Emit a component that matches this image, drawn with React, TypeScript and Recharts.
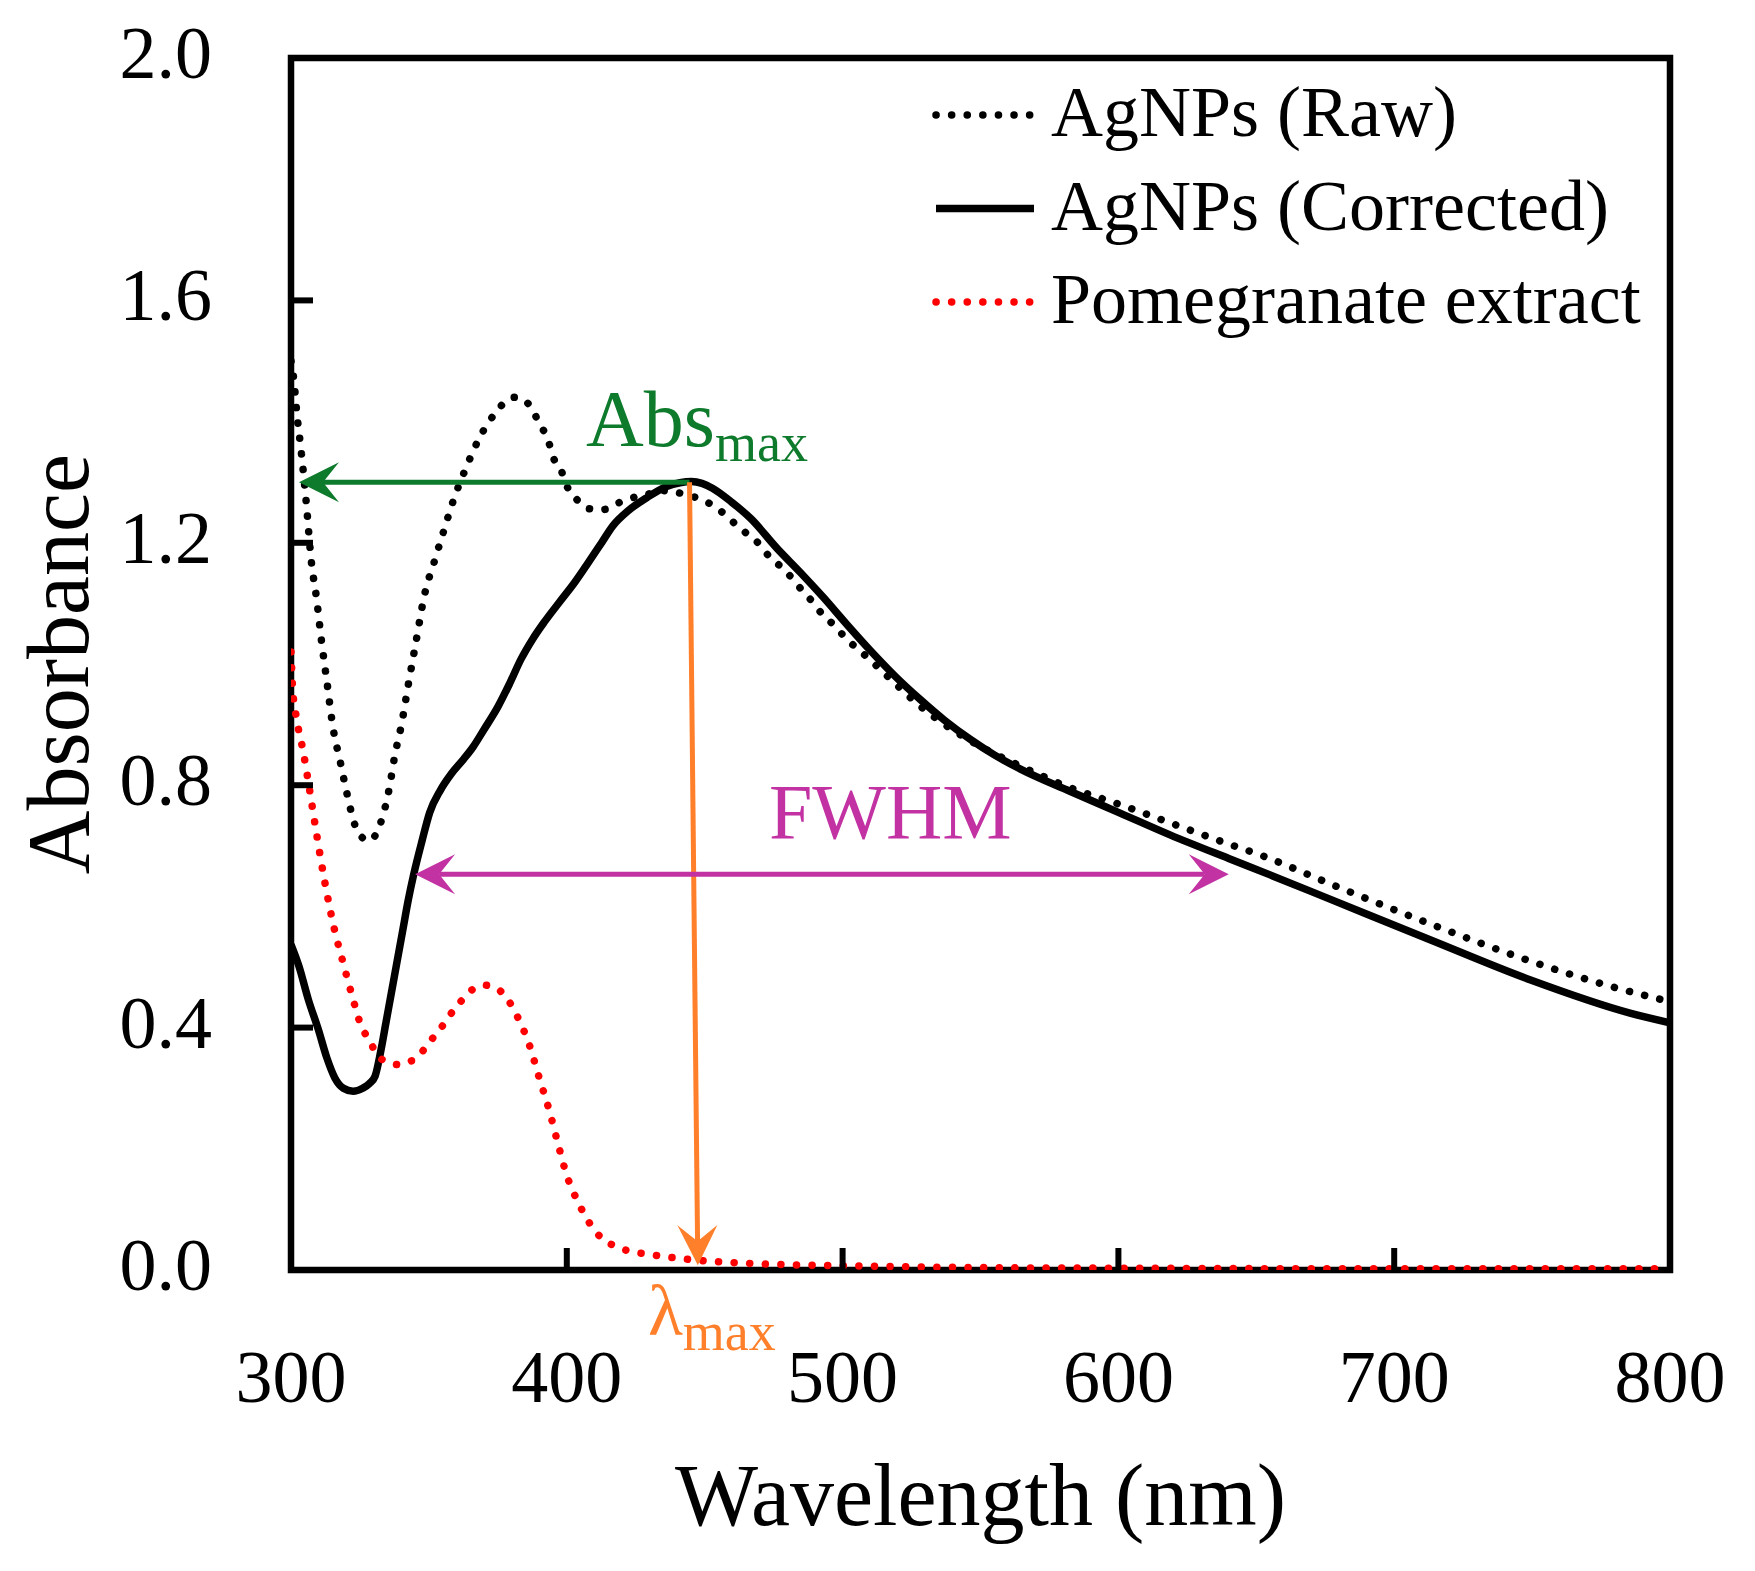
import React from 'react'
import {
  LineChart,
  Line,
  XAxis,
  YAxis,
  ReferenceArea,
  ReferenceLine,
  ReferenceDot,
  Legend,
} from 'recharts'

// AgNPs (Raw) - wavelength (nm) and absorbance
const rawNm = [
  300, 301, 302.2, 303.6, 305.4, 307.4, 309.3, 311, 312.9, 315.3, 317.8, 320.2, 323.2, 326.2, 328.2, 330.4,
  332.8, 335.6, 337.6, 340.1, 342.5, 345.3, 348.5, 351.9, 355.4, 359.1, 363.3, 368.2, 374.4, 378.6, 381,
  383.7, 387.6, 390.3, 393.1, 394.8, 398, 400, 403.5, 408.4, 413.3, 418.8, 424.4, 429.2, 434.8, 441, 446.6,
  452.1, 457, 461.1, 465.3, 470.2, 473.6, 477.8, 482, 485.4, 489.6, 493, 497.2, 501.4, 505.5, 510.4, 519,
  528, 537, 546, 555, 564.3, 582.4, 600.6, 618.7, 636.8, 652.5, 678.5, 715.4, 746.7, 779.3, 800,
]
const rawAbs = [
  1.5, 1.47, 1.41, 1.355, 1.273, 1.168, 1.107, 1.04, 0.975, 0.893, 0.84, 0.788, 0.734, 0.712, 0.708, 0.716,
  0.742, 0.794, 0.848, 0.901, 0.965, 1.036, 1.116, 1.168, 1.22, 1.273, 1.322, 1.372, 1.416, 1.436, 1.44,
  1.438, 1.419, 1.394, 1.372, 1.344, 1.319, 1.294, 1.272, 1.256, 1.255, 1.266, 1.275, 1.28, 1.286, 1.282, 1.275,
  1.264, 1.248, 1.231, 1.215, 1.196, 1.176, 1.16, 1.14, 1.121, 1.1, 1.08, 1.063, 1.041, 1.025, 1.005, 0.968,
  0.931, 0.9, 0.874, 0.852, 0.832, 0.796, 0.768, 0.738, 0.708, 0.683, 0.634, 0.567, 0.514, 0.467, 0.443,
]

// AgNPs (Corrected)
const corrNm = [
  300, 302.9, 306.3, 309.9, 313, 315.9, 319, 322.5, 326, 328.5, 330.5, 332.5, 334.5, 336.5, 338.5, 340.5,
  342.5, 344.5, 347.5, 350.3, 354.2, 358, 362.6, 366, 370, 375.1, 379.3, 383.4, 387.6, 391.8, 397.3,
  402.9, 407, 412.6, 416.7, 422.3, 429.2, 436.2, 441, 445.2, 449, 452.8, 459.8, 466.7, 476.4, 484.7, 493,
  501.4, 509.9, 519, 528, 537, 546.2, 555, 564.3, 582.4, 600.6, 618.7, 640, 655, 676.7, 713, 749.2, 785.5, 800,
]
const corrAbs = [
  0.537, 0.501, 0.446, 0.397, 0.35, 0.317, 0.3, 0.295, 0.3, 0.308, 0.32, 0.36, 0.41, 0.46, 0.51, 0.56,
  0.61, 0.653, 0.708, 0.755, 0.792, 0.818, 0.843, 0.863, 0.892, 0.93, 0.968, 1.008, 1.041, 1.069, 1.102,
  1.135, 1.162, 1.2, 1.228, 1.253, 1.275, 1.293, 1.299, 1.301, 1.298, 1.29, 1.267, 1.24, 1.19, 1.151, 1.11,
  1.066, 1.023, 0.98, 0.942, 0.907, 0.876, 0.85, 0.827, 0.79, 0.754, 0.718, 0.679, 0.652, 0.612, 0.545, 0.479, 0.424, 0.408,
]

// Pomegranate extract
const pomNm = [
  300, 300.6, 302.1, 304.5, 306.5, 309.3, 312.3, 315.9, 318.9, 322, 325.6, 328.6, 331, 334, 338.8, 342,
  346.4, 350, 354, 357.5, 361, 364.7, 367.5, 370, 374, 378, 382, 386.6, 390, 393.6, 396.6, 399.8, 404.4,
  410.5, 420, 431, 443, 465.7, 501.8, 550, 600, 700, 800,
]
const pomAbs = [
  1.02, 0.96, 0.908, 0.854, 0.799, 0.719, 0.639, 0.559, 0.507, 0.455, 0.401, 0.378, 0.356, 0.345, 0.339, 0.342,
  0.354, 0.375, 0.397, 0.42, 0.44, 0.459, 0.467, 0.47, 0.466, 0.45, 0.419, 0.369, 0.317, 0.264, 0.212, 0.159, 0.109,
  0.063, 0.035, 0.025, 0.018, 0.011, 0.007, 0.004, 0.003, 0.002, 0.002,
]

const xTicks = [300, 400, 500, 600, 700, 800]
const yTicks = [0, 0.4, 0.8, 1.2, 1.6, 2.0]

const seriesNames = ['AgNPs (Raw)', 'AgNPs (Corrected)', 'Pomegranate extract']
const seriesColors = ['#000000', '#000000', '#ff0000']
const seriesDash = ['0.1 15.5', undefined, '0.1 15.5']

// annotation anchors, in data units
const peakNm = 444.5
const peakAbs = 1.3
const absArrowTip = 302.9
const lambdaTip = 447.5
const fwhmFrom = 345
const fwhmTo = 640
const fwhmAbs = 0.653

const GREEN = '#0d7a2c'
const ORANGE = '#ff7f2a'
const MAGENTA = '#c232a3'
const FONT = "'Liberation Serif', serif"

const W = 1747
const H = 1563
const X_AXIS_H = 301
const Y_AXIS_W = 283
const MARGIN = { top: 50, right: 85, bottom: 0, left: 0 }

const toRows = (xs: number[], ys: number[]) => xs.map((nm, i) => ({ nm, a: ys[i] }))
const rawData = toRows(rawNm, rawAbs)
const corrData = toRows(corrNm, corrAbs)
const pomData = toRows(pomNm, pomAbs)

const XTick = (props: any) => {
  const { x, y, payload } = props
  return (
    <g>
      <line x1={x} y1={y} x2={x} y2={y - 22} stroke="#000" strokeWidth={6} />
      <text x={x} y={y + 132} textAnchor="middle" fontSize={74} fontFamily={FONT} fill="#000">
        {payload.value}
      </text>
    </g>
  )
}

const YTick = (props: any) => {
  const { x, y, payload } = props
  return (
    <g>
      <line x1={x} y1={y} x2={x + 22} y2={y} stroke="#000" strokeWidth={6} />
      <text x={x - 79} y={y + 20} textAnchor="end" fontSize={74} fontFamily={FONT} fill="#000">
        {Number(payload.value).toFixed(1)}
      </text>
    </g>
  )
}

// stealth style arrow head, tip at (tx, ty), pointing along (ux, uy)
function headPath(tx: number, ty: number, ux: number, uy: number) {
  const L = 40
  const HW = 20
  const N = 24
  const nx = -uy
  const ny = ux
  const bx = tx - ux * L
  const by = ty - uy * L
  return `M${tx},${ty} L${bx + nx * HW},${by + ny * HW} L${tx - ux * N},${ty - uy * N} L${bx - nx * HW},${by - ny * HW} Z`
}

function arrow(color: string, both: boolean) {
  return (p: any) => {
    const { x1, y1, x2, y2 } = p
    const len = Math.hypot(x2 - x1, y2 - y1) || 1
    const ux = (x2 - x1) / len
    const uy = (y2 - y1) / len
    const sx = both ? x1 + ux * 24 : x1
    const sy = both ? y1 + uy * 24 : y1
    return (
      <g>
        <line x1={sx} y1={sy} x2={x2 - ux * 24} y2={y2 - uy * 24} stroke={color} strokeWidth={5} />
        <path d={headPath(x2, y2, ux, uy)} fill={color} />
        {both && <path d={headPath(x1, y1, -ux, -uy)} fill={color} />}
      </g>
    )
  }
}

const LegendBox = () => (
  <svg width={800} height={300}>
    {seriesNames.map((name, i) => (
      <g key={name}>
        <line
          x1={8}
          y1={57 + 93.5 * i}
          x2={106}
          y2={57 + 93.5 * i}
          stroke={seriesColors[i]}
          strokeWidth={seriesDash[i] ? 7.5 : 7.5}
          strokeDasharray={seriesDash[i]}
          strokeLinecap={seriesDash[i] ? 'round' : 'butt'}
        />
        <text x={123} y={78 + 93.5 * i} fontSize={72} fontFamily={FONT} fill="#000">
          {name}
        </text>
      </g>
    ))}
  </svg>
)

export default function App() {
  return (
    <div style={{ width: W, height: H, fontFamily: FONT, background: '#fff' }}>
      <LineChart width={W} height={H} margin={MARGIN}>
        <XAxis
          type="number"
          dataKey="nm"
          domain={[300, 800]}
          ticks={xTicks}
          interval={0}
          allowDataOverflow
          height={X_AXIS_H}
          axisLine={false}
          tickLine={false}
          tickSize={0}
          tickMargin={0}
          tick={<XTick />}
          label={{
            content: (p: any) => {
              const vb = p.viewBox || { x: Y_AXIS_W, y: H - X_AXIS_H, width: W - Y_AXIS_W - MARGIN.right }
              return (
                <text x={vb.x + vb.width / 2} y={vb.y + 255} textAnchor="middle" fontSize={88} fontFamily={FONT} fill="#000">
                  Wavelength (nm)
                </text>
              )
            },
          }}
        />
        <YAxis
          type="number"
          domain={[0, 2]}
          ticks={yTicks}
          interval={0}
          allowDataOverflow
          width={Y_AXIS_W}
          axisLine={false}
          tickLine={false}
          tickSize={0}
          tickMargin={0}
          tick={<YTick />}
          label={{
            content: (p: any) => {
              const vb = p.viewBox || { x: 0, y: MARGIN.top, width: Y_AXIS_W, height: H - MARGIN.top - X_AXIS_H }
              const cx = vb.x + vb.width - 203
              const cy = vb.y + vb.height / 2
              return (
                <text
                  x={cx}
                  y={cy}
                  transform={`rotate(-90, ${cx}, ${cy})`}
                  textAnchor="middle"
                  fontSize={88}
                  fontFamily={FONT}
                  fill="#000"
                >
                  Absorbance
                </text>
              )
            },
          }}
        />
        <ReferenceArea x1={300} x2={800} y1={0} y2={2} fill="none" stroke="#000" strokeWidth={6.5} fillOpacity={0} />
        <Legend
          layout="vertical"
          align="center"
          verticalAlign="middle"
          content={() => <LegendBox />}
          wrapperStyle={{ top: 50, left: 920, width: 800, height: 300 }}
        />
        <Line
          data={rawData}
          dataKey="a"
          name={seriesNames[0]}
          type="monotone"
          stroke={seriesColors[0]}
          strokeWidth={7.5}
          strokeDasharray={seriesDash[0]}
          strokeLinecap="round"
          dot={false}
          activeDot={false}
          isAnimationActive={false}
        />
        <Line
          data={corrData}
          dataKey="a"
          name={seriesNames[1]}
          type="monotone"
          stroke={seriesColors[1]}
          strokeWidth={7.5}
          dot={false}
          activeDot={false}
          isAnimationActive={false}
        />
        <Line
          data={pomData}
          dataKey="a"
          name={seriesNames[2]}
          type="monotone"
          stroke={seriesColors[2]}
          strokeWidth={7.5}
          strokeDasharray={seriesDash[2]}
          strokeLinecap="round"
          dot={false}
          activeDot={false}
          isAnimationActive={false}
        />
        <ReferenceLine
          segment={[{ x: peakNm, y: peakAbs }, { x: absArrowTip, y: peakAbs }]}
          shape={arrow(GREEN, false)}
        />
        <ReferenceLine
          segment={[{ x: peakNm, y: peakAbs }, { x: lambdaTip, y: 0.008 }]}
          shape={arrow(ORANGE, false)}
        />
        <ReferenceLine
          segment={[{ x: fwhmFrom, y: fwhmAbs }, { x: fwhmTo, y: fwhmAbs }]}
          shape={arrow(MAGENTA, true)}
        />
        <ReferenceDot
          x={407}
          y={1.36}
          r={0}
          shape={(p: any) => (
            <text x={p.cx} y={p.cy} fontSize={80} fontFamily={FONT} fill={GREEN}>
              Abs
              <tspan fontSize={54} dy={15}>max</tspan>
            </text>
          )}
        />
        <ReferenceDot
          x={473.3}
          y={0.713}
          r={0}
          shape={(p: any) => (
            <text x={p.cx} y={p.cy} fontSize={78} fontFamily={FONT} fill={MAGENTA}>
              FWHM
            </text>
          )}
        />
        <ReferenceDot
          x={429.4}
          y={0}
          r={0}
          shape={(p: any) => (
            <text x={p.cx} y={p.cy + 65} fontSize={72} fontFamily={FONT} fill={ORANGE}>
              λ
              <tspan fontSize={54} dy={15}>max</tspan>
            </text>
          )}
        />
      </LineChart>
    </div>
  )
}
